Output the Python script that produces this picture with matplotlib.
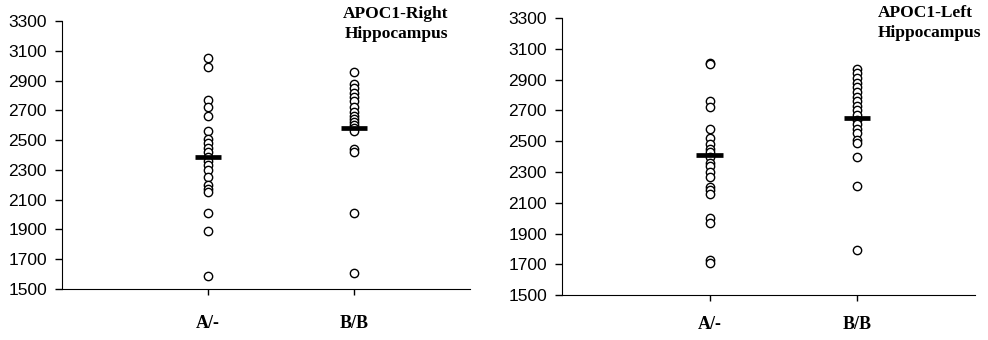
import matplotlib
matplotlib.use('Agg')
import matplotlib.pyplot as plt
import numpy as np

groups = ['A/-', 'B/B']

right_a = [3050, 2990, 2770, 2720, 2660, 2560, 2510, 2480, 2450, 2420, 2390,
           2360, 2330, 2300, 2250, 2200, 2170, 2150, 2010, 1890, 1590]
right_b = [2960, 2880, 2850, 2820, 2790, 2760, 2720, 2690, 2660, 2640, 2620,
           2600, 2580, 2560, 2440, 2420, 2010, 1610]
right_means = [2385, 2580]

left_a = [3010, 3000, 2760, 2720, 2580, 2520, 2480, 2450, 2430, 2400, 2360,
          2340, 2300, 2270, 2200, 2180, 2160, 2000, 1970, 1730, 1710]
left_b = [2970, 2940, 2910, 2880, 2850, 2820, 2790, 2760, 2730, 2700, 2670,
          2640, 2610, 2580, 2550, 2510, 2490, 2400, 2210, 1790]
left_means = [2410, 2650]

yticks = list(range(1500, 3301, 200))

fig = plt.figure(figsize=(9.88, 3.4), dpi=100)
ax1 = fig.add_axes([0.063, 0.15, 0.413, 0.788])
ax2 = fig.add_axes([0.569, 0.132, 0.418, 0.815])


def panel(ax, a, b, means, title, tx, ty, ha, xpad):
    for i, vals in enumerate([a, b]):
        ax.plot([i + 1] * len(vals), vals, 'o', mfc='white', mec='black',
                ms=6, mew=1, linestyle='none', zorder=2)
        ax.hlines(means[i], i + 1 - 0.09, i + 1 + 0.09, color='black',
                  lw=3.4, zorder=3)
    ax.set_xlim(0, 2.8)
    ax.set_ylim(1500, 3300)
    ax.set_yticks(yticks)
    ax.set_xticks([1, 2])
    ax.set_xticklabels(groups, fontfamily='Liberation Serif',
                       fontweight='bold', fontsize=13)
    ax.tick_params(axis='x', direction='out', length=4, pad=xpad, width=1)
    ax.tick_params(axis='y', direction='out', length=5, width=1, pad=6,
                   labelsize=12.5)
    for lab in ax.get_yticklabels():
        lab.set_fontfamily('Liberation Sans')
    ax.spines['top'].set_visible(False)
    ax.spines['right'].set_visible(False)
    ax.text(tx, ty, title, transform=ax.transAxes, ha=ha, va='top',
            fontfamily='Liberation Serif', fontweight='bold', fontsize=12.5,
            linespacing=1.35, clip_on=False)


panel(ax1, right_a, right_b, right_means, 'APOC1-Right\nHippocampus',
      0.945, 1.056, 'right', 15)
panel(ax2, left_a, left_b, left_means, 'APOC1-Left\nHippocampus',
      0.765, 1.047, 'left', 11)

fig.savefig('out.png', dpi=100)
